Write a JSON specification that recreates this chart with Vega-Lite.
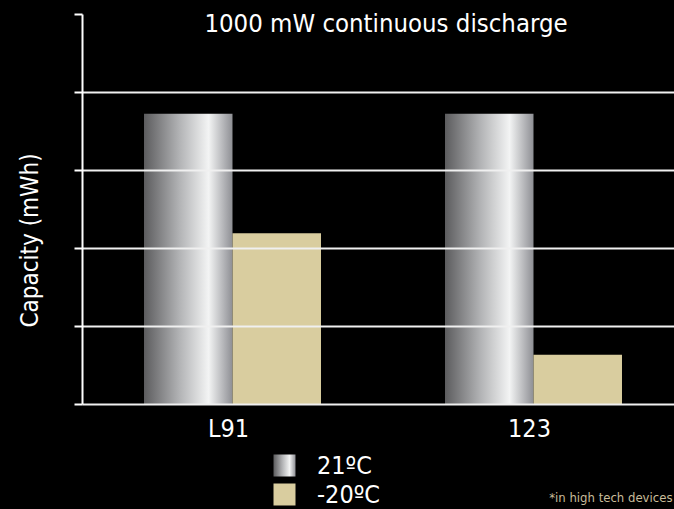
{
  "$schema": "https://vega.github.io/schema/vega-lite/v6.json",
  "autosize": "none",
  "padding": {"left": 82, "top": 14, "right": 0, "bottom": 105},
  "width": 592,
  "height": 390,
  "background": "#000000",
  "title": {
    "text": "1000 mW continuous discharge",
    "color": "#ffffff",
    "font": "'Liberation Sans Narrow', 'DejaVu Sans Condensed', sans-serif",
    "fontSize": 25.5,
    "fontWeight": "normal",
    "anchor": "middle",
    "frame": "group",
    "offset": -24,
    "dx": 8
  },
  "data": {
    "values": [
      {"battery": "L91", "series": "21ºC", "capacity": 3.72},
      {"battery": "L91", "series": "-20ºC", "capacity": 2.19},
      {"battery": "123", "series": "21ºC", "capacity": 3.72},
      {"battery": "123", "series": "-20ºC", "capacity": 0.63}
    ]
  },
  "mark": {"type": "bar"},
  "encoding": {
    "x": {
      "field": "battery",
      "type": "nominal",
      "sort": ["L91", "123"],
      "scale": {"range": [0, 602], "paddingInner": 0.412, "paddingOuter": 0.206},
      "axis": {
        "title": "*in high tech devices",
        "titleColor": "#c9bd9a",
        "titleFont": "'Liberation Sans Narrow', 'DejaVu Sans Condensed', sans-serif",
        "titleFontSize": 13,
        "titleFontWeight": "normal",
        "titleX": 590,
        "titleY": 97,
        "titleAlign": "right",
        "titleBaseline": "alphabetic",
        "labelAngle": 0,
        "labelColor": "#ffffff",
        "labelFont": "'Liberation Sans Narrow', 'DejaVu Sans Condensed', sans-serif",
        "labelFontSize": 25,
        "labelPadding": 12,
        "labelOffset": -4,
        "ticks": false,
        "domain": false,
        "grid": false
      }
    },
    "xOffset": {
      "field": "series",
      "type": "nominal",
      "scale": {"domain": ["21ºC", "-20ºC"], "paddingInner": 0, "paddingOuter": 0}
    },
    "y": {
      "field": "capacity",
      "type": "quantitative",
      "scale": {"domain": [0, 5], "nice": false},
      "axis": {
        "title": "Capacity (mWh)",
        "titleColor": "#ffffff",
        "titleFont": "'Liberation Sans Narrow', 'DejaVu Sans Condensed', sans-serif",
        "titleFontSize": 24,
        "titleFontWeight": "normal",
        "titleX": -52,
        "titleY": 226,
        "titleAngle": -90,
        "titleAlign": "center",
        "titleBaseline": "middle",
        "values": [0, 1, 2, 3, 4, 5],
        "labels": false,
        "ticks": true,
        "tickColor": "#ffffff",
        "tickWidth": 2,
        "tickSize": 8,
        "domain": true,
        "domainColor": "#ffffff",
        "domainWidth": 2,
        "grid": true,
        "gridColor": {"condition": {"test": "datum.value === 5", "value": "transparent"}, "value": "#f0f0f0"},
        "gridWidth": 2,
        "gridOpacity": 1,
        "zindex": 1
      }
    },
    "color": {
      "field": "series",
      "type": "nominal",
      "scale": {
        "domain": ["21ºC", "-20ºC"],
        "range": [
          {"expr": "{gradient: 'linear', x1: 0, x2: 1, y1: 0, y2: 0, stops: [{offset: 0, color: '#5c5c5e'}, {offset: 0.4, color: '#b2b3b5'}, {offset: 0.73, color: '#f3f4f4'}, {offset: 1, color: '#8e8f94'}]}"},
          "#d9cd9f"
        ]
      },
      "legend": {
        "title": null,
        "orient": "none",
        "legendX": 190,
        "legendY": 439,
        "symbolType": "square",
        "symbolSize": 484,
        "symbolStrokeWidth": 0,
        "symbolOpacity": 1,
        "labelColor": "#ffffff",
        "labelFont": "'Liberation Sans Narrow', 'DejaVu Sans Condensed', sans-serif",
        "labelFontSize": 25,
        "labelOffset": 20,
        "rowPadding": 3
      }
    }
  },
  "config": {
    "view": {"stroke": null}
  }
}
